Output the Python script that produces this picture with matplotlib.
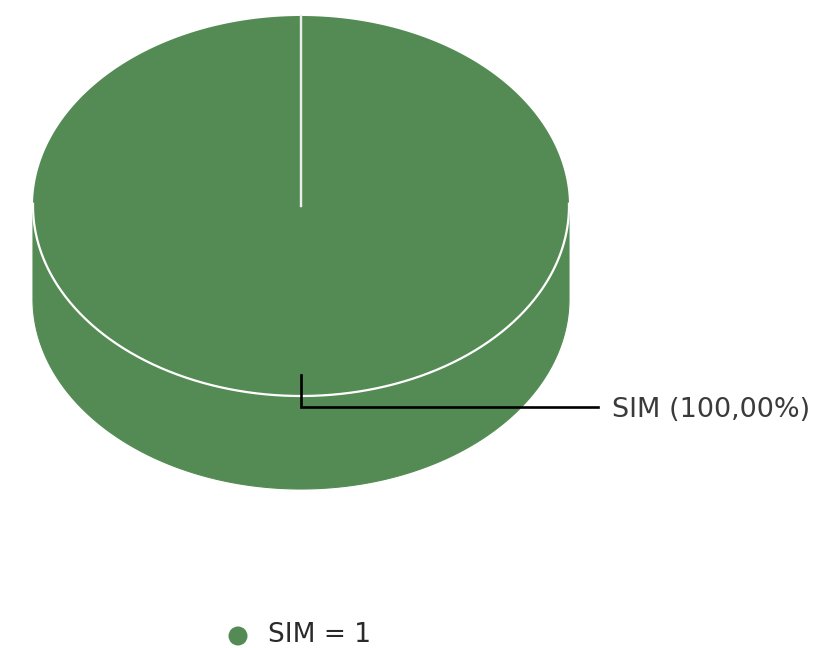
import numpy as np
import matplotlib
matplotlib.use("Agg")
import matplotlib.pyplot as plt
from matplotlib.patches import Polygon, Circle

# Data
categories = ["SIM"]
values = [1]
colors = ["#548b54"]

W, H = 816, 648
fig = plt.figure(figsize=(W / 100, H / 100), dpi=100)
ax = fig.add_axes([0, 0, 1, 1])
ax.set_xlim(0, W)
ax.set_ylim(H, 0)
ax.axis("off")

# Pie geometry (pixel space)
cx, cy = 301, 206
a, b = 268, 190
depth = 93

total = float(sum(values))
start = 90.0
slices = []
for cat, v, col in zip(categories, values, colors):
    sweep = 360.0 * v / total
    slices.append((cat, v, col, start, start - sweep))
    start -= sweep

def pt(t, dy=0.0):
    r = np.deg2rad(t)
    return cx + a * np.cos(r), cy - b * np.sin(r) + dy

# Side walls (front part only)
for cat, v, col, t0, t1 in slices:
    ts = np.linspace(t1, t0, 721)
    front = ts[np.sin(np.deg2rad(ts)) <= 1e-9]
    if len(front) > 1:
        top = [pt(t) for t in front]
        bot = [pt(t, depth) for t in front[::-1]]
        ax.add_patch(Polygon(top + bot, closed=True, facecolor=col,
                             edgecolor=col, lw=0.8, zorder=1))

# Top faces
for cat, v, col, t0, t1 in slices:
    ts = np.linspace(t0, t1, 721)
    poly = [(cx, cy)] + [pt(t) for t in ts]
    ax.add_patch(Polygon(poly, closed=True, facecolor=col,
                         edgecolor="none", zorder=2))
    # front rim (white)
    fr = ts[np.sin(np.deg2rad(ts)) <= 0.02]
    xs, ys = zip(*[pt(t) for t in fr])
    ax.plot(xs, ys, color="white", lw=1.6, zorder=3, solid_capstyle="butt")
    # radial boundary lines
    for t in (t0, t1):
        x, y = pt(t)
        ax.plot([cx, x], [cy, y], color="#e8efe8", lw=1.6, zorder=3)

# Label with leader line
for cat, v, col, t0, t1 in slices:
    pct = 100.0 * v / total
    lx, ly = cx, 375
    ax.plot([lx, lx, 598], [ly, 407, 407], color="black", lw=1.9, zorder=4,
            solid_joinstyle="miter")
    txt = f"{cat} ({pct:.2f}%)".replace(".", ",")
    ax.text(612, 410, txt, fontsize=19.5, color="#3a3a3a",
            va="center", ha="left", family="DejaVu Sans", zorder=5)

# Legend
for i, (cat, v, col) in enumerate(zip(categories, values, colors)):
    ax.add_patch(Circle((238, 636), 9.5, facecolor=col, edgecolor="none", zorder=5))
    ax.text(268, 635, f"{cat} = {v}", fontsize=19, color="#2a2a2a",
            va="center", ha="left", family="DejaVu Sans", zorder=5)

fig.savefig("out.png", dpi=100)
